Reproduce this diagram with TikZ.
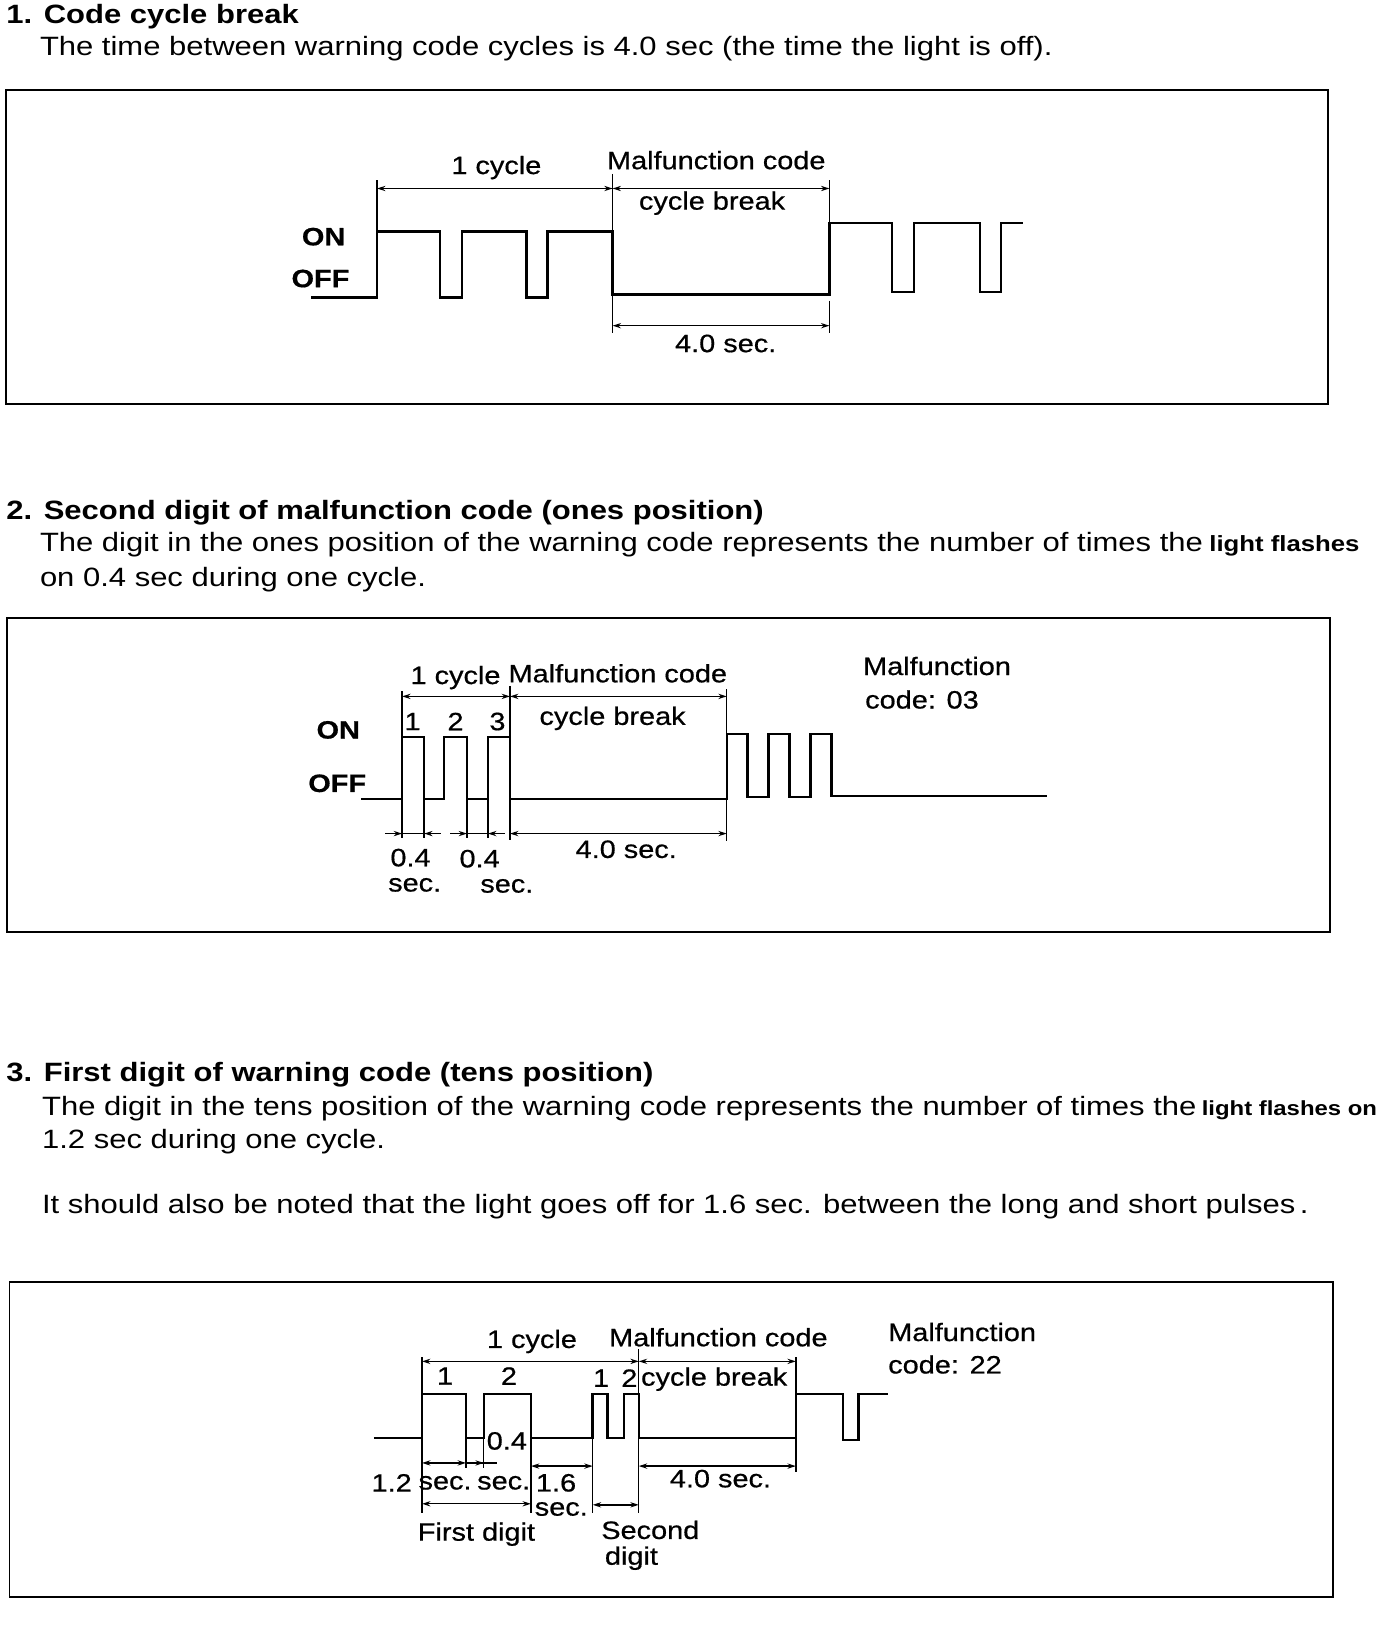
\documentclass[tikz,border=0pt]{standalone}
\usepackage{fontspec}
\setmainfont{Liberation Sans}[FakeStretch=1.17]
\newfontfamily\lblfont{Liberation Sans}[FakeStretch=1.15, FakeBold=0.6]
\usetikzlibrary{arrows.meta}
\begin{document}
\begin{tikzpicture}[x=1pt,y=-1pt,
 wave/.style={line width=2.4pt, line join=miter},
 ext/.style={line width=1.3pt},
 dimline/.style={line width=1.3pt, {Stealth[length=8pt,width=5pt]}-{Stealth[length=8pt,width=5pt]}},
 half/.style={line width=1.3pt, -{Stealth[length=8pt,width=5pt]}},
 frame/.style={line width=1.6pt},
 lbl/.style={inner sep=0pt, font=\lblfont\fontsize{24}{28}\selectfont},
 blbl/.style={inner sep=0pt, font=\lblfont\fontsize{24}{28}\selectfont\bfseries},
 body/.style={inner sep=0pt, anchor=base west, font=\fontsize{25.3}{30}\selectfont},
 head/.style={inner sep=0pt, anchor=base west, font=\fontsize{25.3}{30}\selectfont\bfseries}]
\useasboundingbox (0,0) rectangle (1329,1568);

% ---------- Section 1 ----------
\node[head] (t1) at (6,22) {1. Code cycle break};
\node[body] (b1) at (38,53) {The time between warning code cycles is 4.0 sec (the time the light is off).};
\draw[frame] (6,86) rectangle (1268,386);

\draw[wave] (297,284) -- (360,284) -- (360,221) -- (420,221) -- (420,284) -- (441,284) -- (441,221)
  -- (503,221) -- (503,284) -- (523,284) -- (523,221) -- (585,221) -- (585,281) -- (792,281)
  -- (792,213) -- (852,213) -- (852,279) -- (873,279) -- (873,213) -- (936,213) -- (936,279)
  -- (956,279) -- (956,213) -- (977,213);
\draw[ext] (360,172) -- (360,221);
\draw[ext] (585,166) -- (585,318);
\draw[ext] (792,172) -- (792,213);
\draw[ext] (792,287) -- (792,318);
\draw[dimline] (360,180) -- (585,180);
\draw[dimline] (585,180) -- (792,180);
\draw[dimline] (585,311) -- (792,311);
\node[lbl] (c1) at (474,160) {1 cycle};
\node[lbl] (m1) at (684,153) {Malfunction code};
\node[lbl] (cb1) at (680,194) {cycle break};
\node[lbl] (s1) at (693,328) {4.0 sec.};
\node[blbl] (on1) at (309,226) {ON};
\node[blbl] (off1) at (306,266) {OFF};

% ---------- Section 2 ----------
\node[head] (t2) at (6,496) {2. Second digit of malfunction code (ones position)};
\node[body] (b2a) at (38,527) {The digit in the ones position of the warning code represents the number of times the\hspace{6pt}{\bfseries\fontsize{21}{24}\selectfont light flashes}};
\node[body] (b2b) at (38,560) {on 0.4 sec during one cycle.};
\draw[frame] (7,590) rectangle (1270,890);

\draw[wave] (345,763) -- (384,763) -- (384,704) -- (405,704) -- (405,763) -- (424,763) -- (424,704)
  -- (446,704) -- (446,763) -- (466,763) -- (466,704) -- (487,704) -- (487,763) -- (694,763)
  -- (694,701) -- (714,701) -- (714,761) -- (734,761) -- (734,701) -- (754,701) -- (754,761)
  -- (774,761) -- (774,701) -- (794,701) -- (794,760) -- (1000,760);
\draw[ext] (384,660) -- (384,704);
\draw[ext] (487,655) -- (487,802);
\draw[ext] (694,658) -- (694,701);
\draw[ext] (694,763) -- (694,803);
\foreach \xx in {384,405,446,466} \draw[ext] (\xx,763) -- (\xx,800);
\draw[dimline] (384,665) -- (487,665);
\draw[dimline] (487,665) -- (694,665);
\draw[dimline] (487,796) -- (694,796);
\draw[ext] (368,796) -- (421,796);
\draw[half] (368,796) -- (384,796);
\draw[half] (421,796) -- (405,796);
\draw[ext] (430,796) -- (482,796);
\draw[half] (430,796) -- (446,796);
\draw[half] (482,796) -- (466,796);
\node[lbl] (c2) at (435,647) {1 cycle};
\node[lbl] (m2) at (590,643) {Malfunction code};
\node[lbl] (cb2) at (585,686) {cycle break};
\node[lbl] (n21) at (394,689) {1};
\node[lbl] (n22) at (435,689) {2};
\node[lbl] (n23) at (475,689) {3};
\node[blbl] (on2) at (323,697) {ON};
\node[blbl] (off2) at (322,748) {OFF};
\node[lbl] (s2) at (598,811) {4.0 sec.};
\node[lbl] (p21) at (392,819) {0.4};
\node[lbl] (p22) at (396,845) {sec.};
\node[lbl] (p23) at (458,820) {0.4};
\node[lbl] (p24) at (484,846) {sec.};
\node[lbl, anchor=west] (mc2) at (824,636) {Malfunction};
\node[lbl, anchor=west] (mc2b) at (826,668) {code: 03};

% ---------- Section 3 ----------
\node[head] (t3) at (6,1033) {3. First digit of warning code (tens position)};
\node[body] (b3a) at (40,1065) {The digit in the tens position of the warning code represents the number of times the\hspace{5pt}{\bfseries\fontsize{19.5}{24}\selectfont light flashes on}};
\node[body] (b3b) at (40,1097) {1.2 sec during one cycle.};
\node[body] (b3c) at (40,1159) {It should also be noted that the light goes off for 1.6 sec. between the long and short pulses\,.};
\draw[frame] (9,1224) rectangle (1273,1525);

\draw[wave] (357,1373) -- (403,1373) -- (403,1331) -- (445,1331) -- (445,1373) -- (462,1373) -- (462,1331)
  -- (507,1331) -- (507,1373) -- (566,1373) -- (566,1331) -- (580,1331) -- (580,1373) -- (596,1373)
  -- (596,1331) -- (610,1331) -- (610,1373) -- (760,1373) -- (760,1331) -- (805,1331) -- (805,1375)
  -- (820,1375) -- (820,1331) -- (848,1331);
\draw[ext] (403,1296) -- (403,1331);
\draw[ext] (403,1373) -- (403,1445);
\draw[ext] (445,1373) -- (445,1402);
\draw[ext] (462,1373) -- (462,1402);
\draw[ext] (507,1373) -- (507,1445);
\draw[ext] (566,1373) -- (566,1445);
\draw[ext] (610,1288) -- (610,1445);
\draw[ext] (760,1296) -- (760,1331);
\draw[ext] (760,1373) -- (760,1406);
\draw[dimline] (403,1300) -- (610,1300);
\draw[dimline] (610,1300) -- (760,1300);
\draw[dimline] (403,1397) -- (445,1397);
\draw[ext] (445,1397) -- (475,1397);
\draw[half] (445,1397) -- (462,1397);
\draw[dimline] (507,1400) -- (566,1400);
\draw[dimline] (610,1400) -- (760,1400);
\draw[dimline] (403,1436) -- (507,1436);
\draw[dimline] (566,1437) -- (610,1437);
\node[lbl] (c3) at (508,1281) {1 cycle};
\node[lbl] (m3) at (686,1277) {Malfunction code};
\node[lbl] (n31) at (425,1314) {1};
\node[lbl] (n32) at (486,1314) {2};
\node[lbl] (n33) at (574,1316) {1};
\node[lbl] (n34) at (601,1316) {2};
\node[lbl] (cb3) at (682,1317) {cycle break};
\node[lbl] (p31) at (484,1376) {0.4};
\node[lbl] (p32) at (374,1416) {1.2};
\node[lbl] (p33) at (425,1416) {sec.};
\node[lbl] (p34) at (481,1416) {sec.};
\node[lbl] (p35) at (531,1416) {1.6};
\node[lbl] (p36) at (536,1441) {sec.};
\node[lbl] (s3) at (688,1412) {4.0 sec.};
\node[lbl] (fd) at (455,1465) {First digit};
\node[lbl] (sd1) at (621,1461) {Second};
\node[lbl] (sd2) at (603,1488) {digit};
\node[lbl, anchor=west] (mc3) at (848,1272) {Malfunction};
\node[lbl, anchor=west] (mc3b) at (848,1303) {code: 22};
\end{tikzpicture}
\end{document}
